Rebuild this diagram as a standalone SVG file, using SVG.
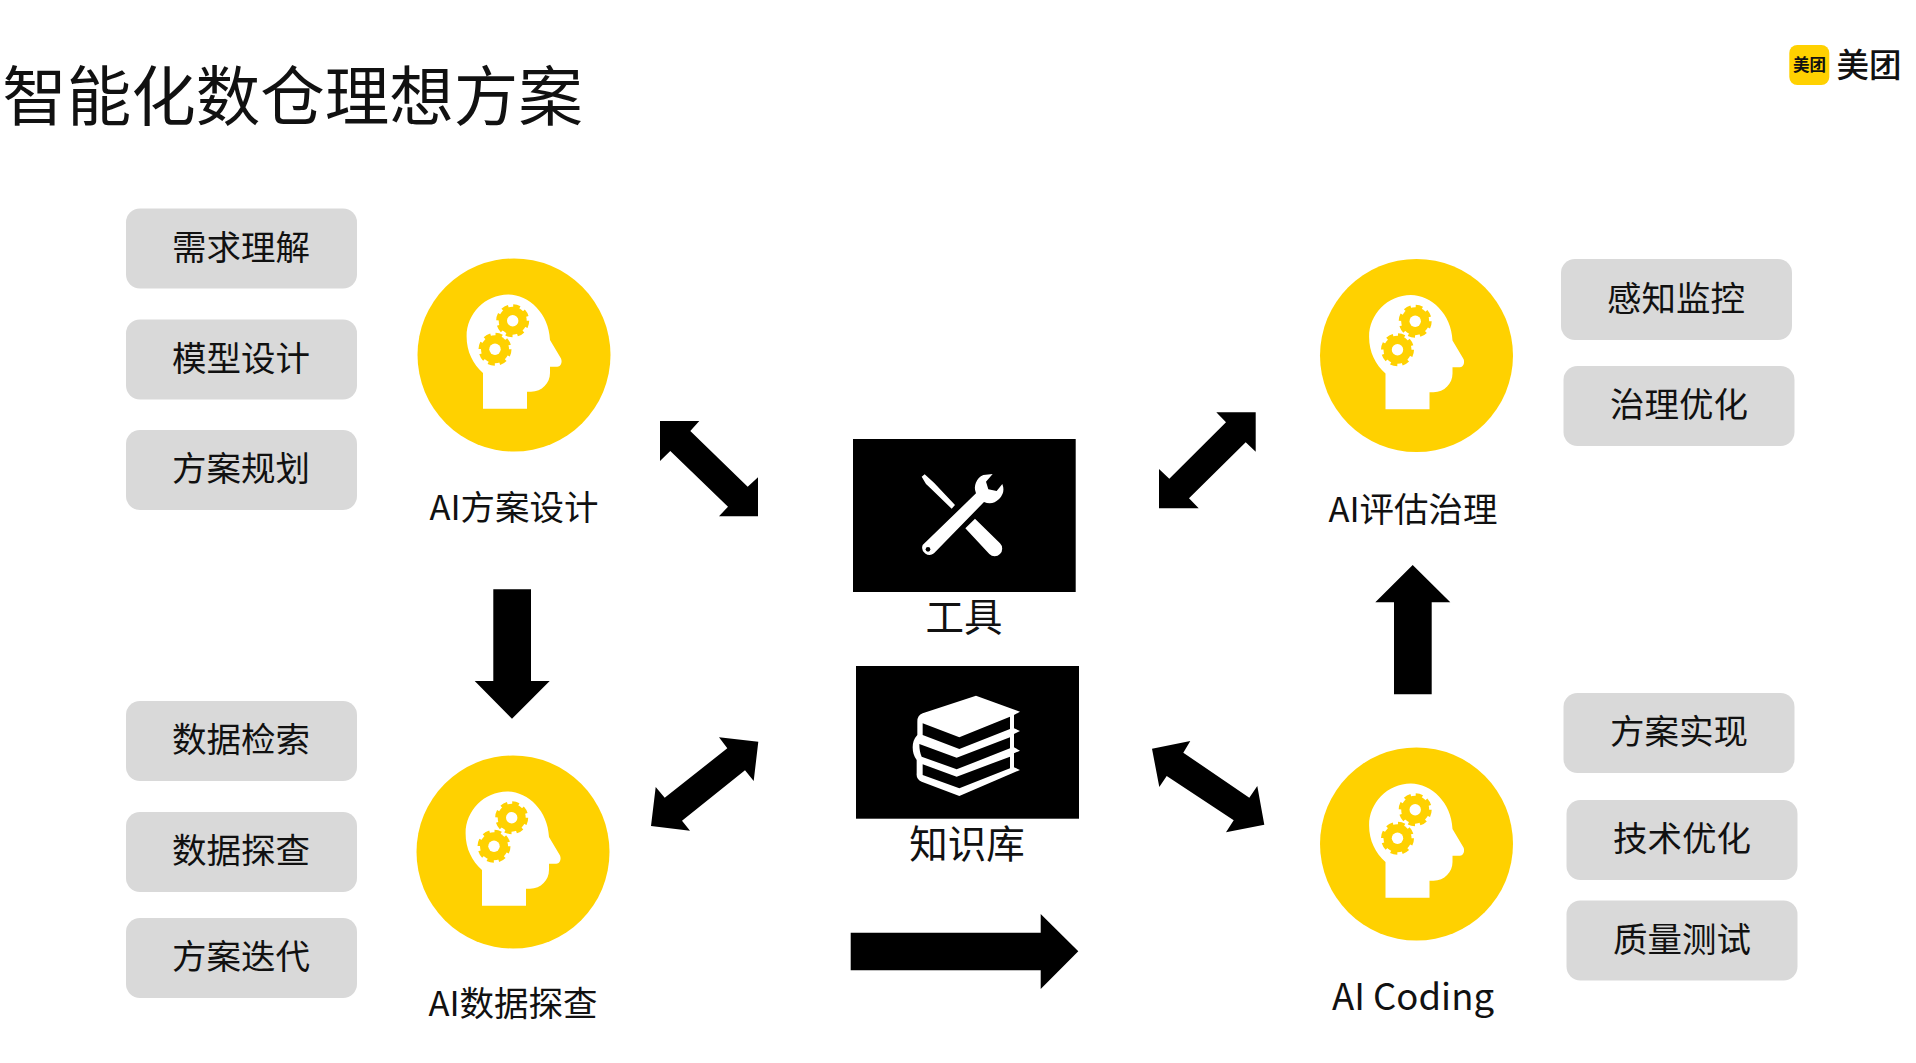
<svg xmlns="http://www.w3.org/2000/svg" width="1916" height="1063" viewBox="0 0 1916 1063">
<style>
text{font-family:"Noto Sans CJK SC","Noto Sans",sans-serif;fill:#111;text-anchor:middle}
.box{fill:#d9d9d9}
.bt{font-size:34.5px}
.lb{font-size:34.5px}
.disc{fill:#ffd100}
.arr{fill:#000}
.w{fill:#fff}
.k{fill:#000}
.tooth{fill:none;stroke:#ffd100;stroke-width:4;stroke-dasharray:6.6 4.8}
</style>
<defs>
<g id="head">
<circle class="disc" r="96.5"/>
<path class="w" d="M-31 53.7H13V36.7H17C28 36.7 36 28 36 18V11.7H43.3C47 11.7 48.5 7 47 3.5L36 -15C35 -41 15 -60.4 -5.7 -60.4C-29 -60.4 -47.4 -41 -47.4 -18.7C-47.4 -3 -41 9 -31 18Z"/>
<circle class="disc" cx="-1.3" cy="-34.3" r="14"/><circle class="tooth" cx="-1.3" cy="-34.3" r="14.5"/><circle class="w" cx="-1.3" cy="-34.3" r="5.7"/>
<circle class="disc" cx="-19" cy="-5.7" r="14"/><circle class="tooth" cx="-19" cy="-5.7" r="14.5"/><circle class="w" cx="-19" cy="-5.7" r="5.7"/>
</g>
</defs>
<rect width="1916" height="1063" fill="#fff"/>
<text id="title" x="292.5" y="120" style="font-size:64.5px">智能化数仓理想方案</text>
<g id="logo">
<rect class="disc" x="1789.3" y="45" width="40" height="40" rx="8"/>
<text x="1809.5" y="71" style="font-size:16.5px;font-weight:700">美团</text>
<text x="1869" y="77" style="font-size:32.5px;font-weight:500">美团</text>
</g>
<g id="connectors">
<polygon class="arr" points="660,421 699.3,421 690.3,431 747.7,486.7 758,477.3 758,516.3 719,516.3 728,506.7 670.3,451 660,461"/>
<polygon class="arr" points="1255.7,412.3 1255.7,451.7 1245.7,442.3 1189,498.3 1198.7,508.3 1159,508.3 1159,469 1169.3,478.7 1226,422.3 1216.3,412.3"/>
<polygon class="arr" points="758.3,741.7 753.7,781 745,770.3 682,820.7 690,830.7 651,826 655.7,787 664.7,797.7 727.3,748.3 719,737.3"/>
<polygon class="arr" points="1152,748.7 1190.3,741 1183.3,752.7 1249.3,797.7 1257.3,786 1264.3,824.7 1226,832.3 1233.7,820.3 1166.7,776 1159.3,787"/>
<polygon class="arr" points="850.7,932.7 1040.7,932.7 1040.7,914 1078.3,951.3 1040.7,989 1040.7,970.3 850.7,970.3"/>
<polygon class="arr" points="1412.7,565 1450.3,602.3 1431.7,602.3 1431.7,694.3 1394,694.3 1394,602.3 1375.3,602.3"/>
<polygon class="arr" points="493.3,589.3 531,589.3 531,681 549.7,681 512,718.7 474.7,681 493.3,681"/>
</g>
<g id="n-req"><rect class="box" x="126" y="208.5" width="231" height="80" rx="14"/><text class="bt" x="241" y="260">需求理解</text></g>
<g id="n-model"><rect class="box" x="126" y="319.5" width="231" height="80" rx="14"/><text class="bt" x="241" y="371">模型设计</text></g>
<g id="n-plan"><rect class="box" x="126" y="430" width="231" height="80" rx="14"/><text class="bt" x="241" y="481">方案规划</text></g>
<g id="n-search"><rect class="box" x="126" y="701" width="231" height="80" rx="14"/><text class="bt" x="241" y="752">数据检索</text></g>
<g id="n-explore"><rect class="box" x="126" y="812" width="231" height="80" rx="14"/><text class="bt" x="241" y="863">数据探查</text></g>
<g id="n-iter"><rect class="box" x="126" y="918" width="231" height="80" rx="14"/><text class="bt" x="241" y="969">方案迭代</text></g>
<g id="n-sense"><rect class="box" x="1561" y="259" width="231" height="81" rx="14"/><text class="bt" x="1676" y="311">感知监控</text></g>
<g id="n-gov"><rect class="box" x="1563.5" y="366" width="231" height="80" rx="14"/><text class="bt" x="1679" y="417">治理优化</text></g>
<g id="n-impl"><rect class="box" x="1563.5" y="693" width="231" height="80" rx="14"/><text class="bt" x="1679" y="744">方案实现</text></g>
<g id="n-tech"><rect class="box" x="1566.5" y="800" width="231" height="80" rx="14"/><text class="bt" x="1682" y="851">技术优化</text></g>
<g id="n-qa"><rect class="box" x="1566.5" y="900.5" width="231" height="80" rx="14"/><text class="bt" x="1682" y="952">质量测试</text></g>
<g id="n-ai-design"><use href="#head" transform="translate(514,355)"/><text class="lb" x="514" y="520">AI方案设计</text></g>
<g id="n-ai-data"><use href="#head" transform="translate(513,852)"/><text class="lb" x="513" y="1016">AI数据探查</text></g>
<g id="n-ai-gov"><use href="#head" transform="translate(1416.5,355.5)"/><text class="lb" x="1413" y="522">AI评估治理</text></g>
<g id="n-ai-code"><use href="#head" transform="translate(1416.5,844)"/><text x="1413" y="1010" style="font-size:36.5px">AI Coding</text></g>
<g id="n-tools">
<rect class="k" x="853" y="439" width="222.7" height="153"/>
<g transform="translate(840,430) scale(.33333)">
<path class="w" d="M245 140L254 133L282 158L345 225L335 236L270 173L258 162Z"/>
<path class="w" d="M376 295L405 266L480 340A22 22 0 0 1 448 372Z"/>
<path class="w" d="M248 345L408 190A42 42 0 0 1 430 135L458 132L438 155L445 178L470 183L487 162A42 42 0 0 1 432 216L282 370A22 22 0 0 1 248 345Z"/>
<circle class="k" cx="264" cy="358" r="7"/>
</g>
<text x="964" y="631" style="font-size:38.5px">工具</text>
</g>
<g id="n-kb">
<rect class="k" x="856" y="666" width="223" height="152.7"/>
<g transform="translate(840,660) scale(.33333)">
<path class="w" d="M408 107L540 155L522 165V205L540 213L522 222V262L540 272L522 280V322L540 330L358 408L245 365Q228 358 230 340V300Q218 285 218 262Q218 240 232 225V185Q232 165 248 160Z"/>
<path class="k" d="M248 190L358 232L510 170V207L358 267L248 225Z"/>
<path class="k" d="M238 252L350 293L510 232V265L350 328L245 290Q238 275 238 252Z"/>
<path class="k" d="M248 313L350 350L510 290V325L358 385L248 345Z"/>
</g>
<text x="967" y="858" style="font-size:38.5px">知识库</text>
</g>
</svg>
